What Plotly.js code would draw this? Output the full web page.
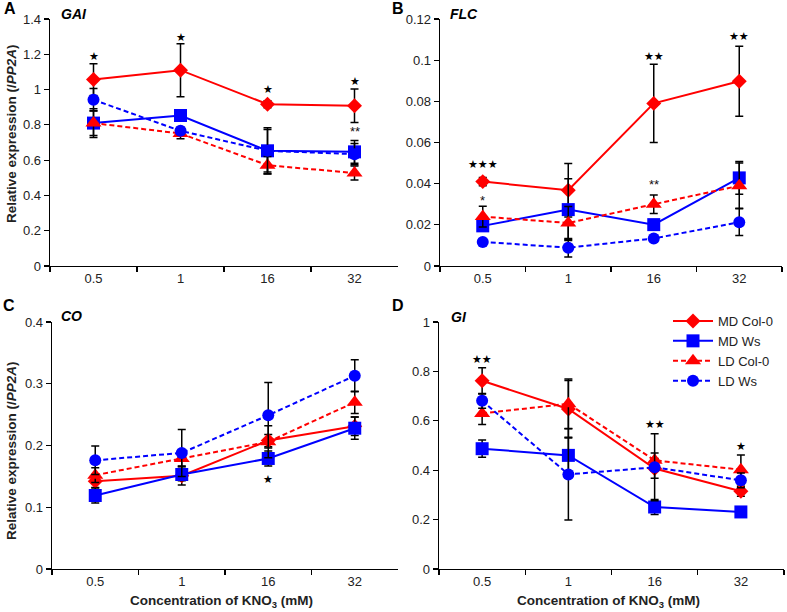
<!DOCTYPE html>
<html>
<head>
<meta charset="utf-8">
<script src="https://cdn.plot.ly/plotly-3.0.1.min.js"></script>
<style>html,body{margin:0;padding:0;background:#fff;}#chart{width:787px;height:612px;}</style>
</head>
<body>
<div id="chart"></div>
<script>
// ---------- DATA ----------
const categories = ['0.5', '1', '16', '32'];
const seriesNames = ['MD Col-0', 'MD Ws', 'LD Col-0', 'LD Ws'];

// Panel A: GAI
const gai_MDCol    = [1.057, 1.11, 0.917, 0.908];
const gai_MDCol_sd = [0.09, 0.15, 0.02, 0.095];
const gai_MDWs     = [0.81, 0.853, 0.653, 0.647];
const gai_MDWs_sd  = [0.07, 0.02, 0.13, 0.065];
const gai_LDCol    = [0.81, 0.751, 0.571, 0.527];
const gai_LDCol_sd = [0.082, 0.03, 0.05, 0.04];
const gai_LDWs     = [0.942, 0.766, 0.653, 0.634];
const gai_LDWs_sd  = [0.064, 0.02, 0.12, 0.06];

// Panel B: FLC
const flc_MDCol    = [0.041, 0.0368, 0.079, 0.0898];
const flc_MDCol_sd = [0.002, 0.013, 0.019, 0.017];
const flc_MDWs     = [0.0195, 0.0274, 0.0201, 0.0428];
const flc_MDWs_sd  = [0.002, 0.015, 0.002, 0.008];
const flc_LDCol    = [0.024, 0.0209, 0.030, 0.039];
const flc_LDCol_sd = [0.005, 0.008, 0.0045, 0.011];
const flc_LDWs     = [0.0117, 0.0089, 0.0134, 0.0213];
const flc_LDWs_sd  = [0.001, 0.0045, 0.001, 0.0065];

// Panel C: CO
const co_MDCol    = [0.142, 0.151, 0.208, 0.231];
const co_MDCol_sd = [0.01, 0.015, 0.01, 0.015];
const co_MDWs     = [0.119, 0.153, 0.179, 0.228];
const co_MDWs_sd  = [0.012, 0.01, 0.012, 0.018];
const co_LDCol    = [0.152, 0.179, 0.206, 0.27];
const co_LDCol_sd = [0.012, 0.012, 0.026, 0.018];
const co_LDWs     = [0.176, 0.188, 0.249, 0.313];
const co_LDWs_sd  = [0.023, 0.038, 0.053, 0.026];

// Panel D: GI
const gi_MDCol    = [0.762, 0.648, 0.407, 0.315];
const gi_MDCol_sd = [0.053, 0.115, 0.04, 0.02];
const gi_MDWs     = [0.487, 0.46, 0.251, 0.231];
const gi_MDWs_sd  = [0.035, 0.07, 0.03, 0.02];
const gi_LDCol    = [0.63, 0.669, 0.44, 0.402];
const gi_LDCol_sd = [0.045, 0.1, 0.03, 0.06];
const gi_LDWs     = [0.681, 0.383, 0.412, 0.359];
const gi_LDWs_sd  = [0.03, 0.185, 0.136, 0.03];

// Significance marks: category, value, label
const sigA_x = ['0.5', '1', '16', '32', '32'];
const sigA_y = [1.19, 1.296, 1.0, 1.044, 0.76];
const sigA_t = ['★', '★', '★', '★', '**'];
const sigB_x = ['0.5', '0.5', '16', '16', '32'];
const sigB_y = [0.0495, 0.032, 0.1017, 0.0397, 0.1117];
const sigB_t = ['★★★', '*', '★★', '**', '★★'];
const sigC_x = ['16'];
const sigC_y = [0.145];
const sigC_t = ['★'];
const sigD_x = ['0.5', '16', '32'];
const sigD_y = [0.847, 0.587, 0.494];
const sigD_t = ['★★', '★★', '★'];

// ---------- STYLE / LAYOUT ----------
const W = 787, H = 612;
const fx = v => v / W;
const fy = v => 1 - v / H;
const FONT = '"Liberation Sans", Arial, sans-serif';

const seriesStyle = [
  {color: '#FF0000', symbol: 'diamond', size: 11.5, dash: 'solid'},
  {color: '#0000FF', symbol: 'square', size: 13, dash: 'solid'},
  {color: '#FF0000', symbol: 'triangle-up', size: 14, dash: '5px,3px'},
  {color: '#0000FF', symbol: 'circle', size: 12, dash: '5px,3px'}
];

const panels = [
  {letter: 'A', gene: 'GAI', xa: 'x', ya: 'y', means: [gai_MDCol, gai_MDWs, gai_LDCol, gai_LDWs],
   sds: [gai_MDCol_sd, gai_MDWs_sd, gai_LDCol_sd, gai_LDWs_sd], yMax: 1.4, dtick: 0.2,
   sx: sigA_x, sy: sigA_y, st: sigA_t, xd: [50, 398], yd: [19, 266]},
  {letter: 'B', gene: 'FLC', xa: 'x2', ya: 'y2', means: [flc_MDCol, flc_MDWs, flc_LDCol, flc_LDWs],
   sds: [flc_MDCol_sd, flc_MDWs_sd, flc_LDCol_sd, flc_LDWs_sd], yMax: 0.12, dtick: 0.02,
   sx: sigB_x, sy: sigB_y, st: sigB_t, xd: [440, 782], yd: [19, 266]},
  {letter: 'C', gene: 'CO', xa: 'x3', ya: 'y3', means: [co_MDCol, co_MDWs, co_LDCol, co_LDWs],
   sds: [co_MDCol_sd, co_MDWs_sd, co_LDCol_sd, co_LDWs_sd], yMax: 0.4, dtick: 0.1,
   sx: sigC_x, sy: sigC_y, st: sigC_t, xd: [52, 398], yd: [322, 569]},
  {letter: 'D', gene: 'GI', xa: 'x4', ya: 'y4', means: [gi_MDCol, gi_MDWs, gi_LDCol, gi_LDWs],
   sds: [gi_MDCol_sd, gi_MDWs_sd, gi_LDCol_sd, gi_LDWs_sd], yMax: 1.0, dtick: 0.2,
   sx: sigD_x, sy: sigD_y, st: sigD_t, xd: [439, 784], yd: [322, 569]}
];

const traces = [];
const layout = {
  width: W, height: H,
  margin: {l: 0, r: 0, t: 0, b: 0},
  paper_bgcolor: '#fff', plot_bgcolor: 'rgba(0,0,0,0)',
  font: {family: FONT, size: 13, color: '#222'},
  showlegend: true,
  legend: {x: fx(668), y: fy(306), xanchor: 'left', yanchor: 'top',
           font: {family: FONT, size: 13, color: '#222'}, itemwidth: 40,
           bgcolor: 'rgba(0,0,0,0)', borderwidth: 0, tracegroupgap: 0},
  annotations: []
};

panels.forEach((p, pi) => {
  const xk = 'xaxis' + (pi === 0 ? '' : pi + 1);
  const yk = 'yaxis' + (pi === 0 ? '' : pi + 1);
  layout[xk] = {
    domain: [fx(p.xd[0]), fx(p.xd[1])], anchor: p.ya,
    type: 'category', categoryorder: 'array', categoryarray: categories,
    range: [-0.5, 3.5], tickson: 'boundaries', ticks: 'outside', ticklen: 5,
    tickcolor: '#000', tickwidth: 1.2, showline: true, linecolor: '#000', linewidth: 1.3,
    showgrid: false, zeroline: false, fixedrange: true,
    tickfont: {family: FONT, size: 13, color: '#222'}
  };
  layout[yk] = {
    domain: [fy(p.yd[1]), fy(p.yd[0])], anchor: p.xa,
    range: [0, p.yMax], dtick: p.dtick, tick0: 0, ticks: 'outside', ticklen: 5,
    tickcolor: '#000', tickwidth: 1.2, showline: true, linecolor: '#000', linewidth: 1.3,
    showgrid: false, zeroline: false, fixedrange: true,
    tickfont: {family: FONT, size: 13, color: '#222'}
  };
  p.means.forEach((m, si) => {
    const s = seriesStyle[si];
    traces.push({
      type: 'scatter', mode: 'lines+markers',
      x: categories, y: m, xaxis: p.xa, yaxis: p.ya,
      name: seriesNames[si], showlegend: pi === 3, legendgroup: seriesNames[si],
      line: {color: s.color, width: 2, dash: s.dash},
      marker: {color: s.color, symbol: s.symbol, size: s.size, line: {width: 0}},
      error_y: {type: 'data', array: p.sds[si], visible: true, color: '#000', thickness: 1.5, width: 4},
      cliponaxis: false, hoverinfo: 'skip'
    });
  });
  // significance marks (x given as category index on the category axis)
  p.sx.forEach((c, k) => {
    const isStar = p.st[k].indexOf('★') >= 0;
    layout.annotations.push({
      xref: p.xa, yref: p.ya, x: categories.indexOf(c), y: p.sy[k], text: p.st[k], showarrow: false,
      xanchor: 'center', yanchor: 'middle',
      font: isStar ? {family: '"DejaVu Sans", sans-serif', size: 11, color: '#000'}
                   : {family: FONT, size: 13, color: '#111'}
    });
  });
  // panel letter
  const lp = [[2, 9], [390, 9], [1, 305], [390, 305]][pi];
  layout.annotations.push({xref: 'paper', yref: 'paper', x: fx(lp[0]), y: fy(lp[1]),
    xanchor: 'left', yanchor: 'middle', showarrow: false, text: '<b>' + p.letter + '</b>',
    font: {family: FONT, size: 16, color: '#000'}});
  // gene name
  const gp = [[59, 14], [448, 14], [59, 316], [449, 317]][pi];
  layout.annotations.push({xref: 'paper', yref: 'paper', x: fx(gp[0]), y: fy(gp[1]),
    xanchor: 'left', yanchor: 'middle', showarrow: false, text: '<b><i>' + p.gene + '</i></b>',
    font: {family: FONT, size: 14, color: '#000'}});
});

// axis titles
[[11, 134], [11, 451]].forEach(pos => {
  layout.annotations.push({xref: 'paper', yref: 'paper', x: fx(pos[0]), y: fy(pos[1]),
    xanchor: 'center', yanchor: 'middle', showarrow: false, textangle: -90,
    text: '<b>Relative expression (/<i>PP2A</i>)</b>',
    font: {family: FONT, size: 13.5, color: '#222'}});
});
[[221, 601], [608, 601]].forEach(pos => {
  layout.annotations.push({xref: 'paper', yref: 'paper', x: fx(pos[0]), y: fy(pos[1]),
    xanchor: 'center', yanchor: 'middle', showarrow: false,
    text: '<b>Concentration of KNO<sub>3</sub> (mM)</b>',
    font: {family: FONT, size: 13.5, color: '#222'}});
});

Plotly.newPlot('chart', traces, layout, {staticPlot: true, displayModeBar: false});
</script>
</body>
</html>
